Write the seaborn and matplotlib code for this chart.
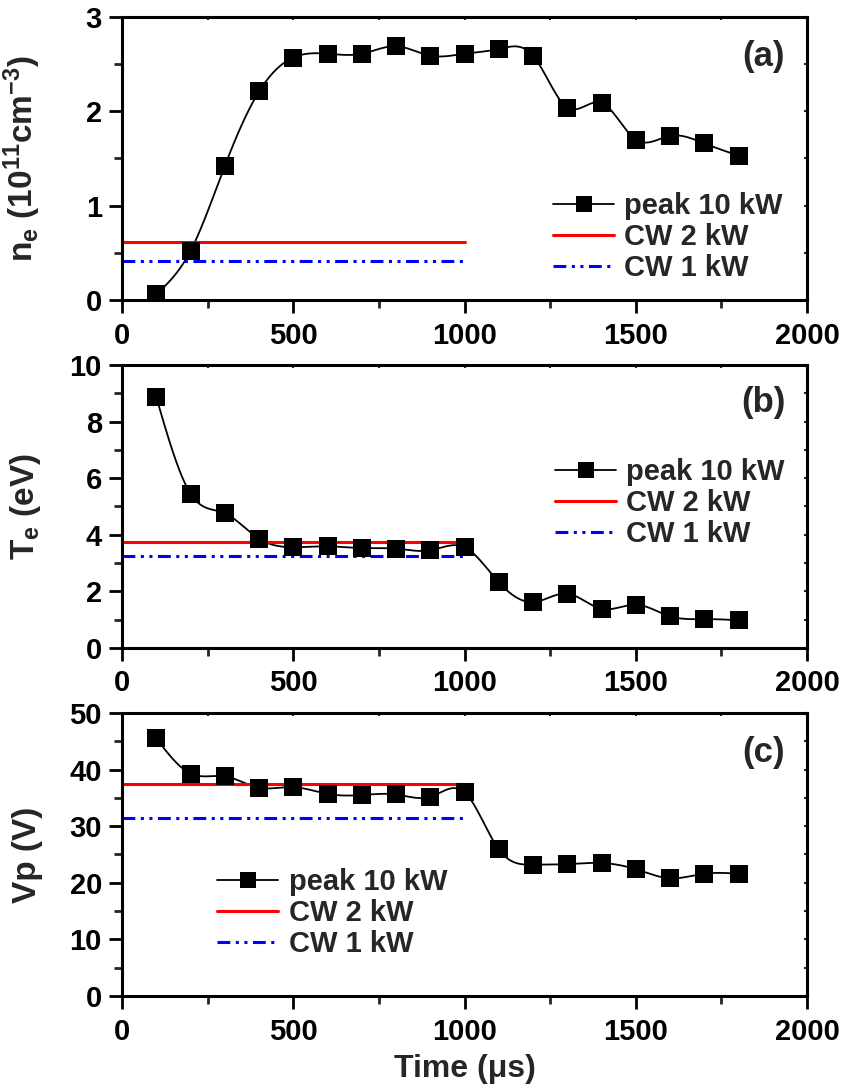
import numpy as np
import pandas as pd
import matplotlib
matplotlib.use("Agg")
import matplotlib.pyplot as plt
from matplotlib.lines import Line2D
from matplotlib.ticker import MultipleLocator
import seaborn as sns

# ---- data -------------------------------------------------------------
time_us = [100, 200, 300, 400, 500, 600, 700, 800, 900,
           1000, 1100, 1200, 1300, 1400, 1500, 1600, 1700, 1800]

ne_peak = [0.06, 0.52, 1.42, 2.21, 2.57, 2.61, 2.61, 2.69, 2.59,
           2.61, 2.66, 2.59, 2.04, 2.09, 1.70, 1.74, 1.66, 1.53]
te_peak = [8.86, 5.45, 4.76, 3.86, 3.56, 3.59, 3.53, 3.51, 3.45,
           3.56, 2.32, 1.62, 1.92, 1.38, 1.53, 1.12, 1.02, 0.98]
vp_peak = [45.5, 39.3, 38.8, 36.8, 36.9, 35.7, 35.5, 35.6, 35.2,
           36.0, 25.9, 23.2, 23.3, 23.5, 22.4, 20.8, 21.6, 21.6]

cw_span = [0, 1000]
ne_cw2, ne_cw1 = 0.62, 0.41
te_cw2, te_cw1 = 3.76, 3.24
vp_cw2, vp_cw1 = 37.5, 31.4

legend_labels = ["peak 10 kW", "CW 2 kW", "CW 1 kW"]
panel_tags = ["(a)", "(b)", "(c)"]
y_labels = [r"n$_\mathbf{e}$ (10$^\mathbf{11}$cm$^\mathbf{-3}$)",
            r"T$_\mathbf{e}$ (eV)", "Vp (V)"]

# ---- style ------------------------------------------------------------
sns.set_theme(style="ticks")
plt.rcParams["font.family"] = ["Liberation Sans", "DejaVu Sans"]
plt.rcParams["font.weight"] = "bold"
plt.rcParams["mathtext.fontset"] = "custom"
plt.rcParams["mathtext.rm"] = "Liberation Sans:bold"
plt.rcParams["mathtext.bf"] = "Liberation Sans:bold"
plt.rcParams["mathtext.it"] = "Liberation Sans:bold"
plt.rcParams["mathtext.default"] = "bf"

FS_TICK = 21
FS_LEG = 21
FS_LABEL = 24
FS_TAG = 25
RED = "#ff0000"
BLUE = "#0000ff"
DASHDOTDOT = (4.2, 1.8, 1.0, 1.8, 1.0, 1.8)


def natural_spline(x, y, n=500):
    """Natural cubic spline through the measured points (for the smooth trace)."""
    x = np.asarray(x, float)
    y = np.asarray(y, float)
    m = len(x)
    h = np.diff(x)
    A = np.zeros((m, m))
    b = np.zeros(m)
    A[0, 0] = A[-1, -1] = 1.0
    for i in range(1, m - 1):
        A[i, i - 1] = h[i - 1]
        A[i, i] = 2 * (h[i - 1] + h[i])
        A[i, i + 1] = h[i]
        b[i] = 6 * ((y[i + 1] - y[i]) / h[i] - (y[i] - y[i - 1]) / h[i - 1])
    M = np.linalg.solve(A, b)
    xs = np.linspace(x[0], x[-1], n)
    idx = np.clip(np.searchsorted(x, xs) - 1, 0, m - 2)
    x0, x1 = x[idx], x[idx + 1]
    hh = x1 - x0
    t0 = x1 - xs
    t1 = xs - x0
    ys = (M[idx] * t0 ** 3 / (6 * hh) + M[idx + 1] * t1 ** 3 / (6 * hh)
          + (y[idx] / hh - M[idx] * hh / 6) * t0
          + (y[idx + 1] / hh - M[idx + 1] * hh / 6) * t1)
    return xs, ys


fig = plt.figure(figsize=(8.45, 10.87), dpi=100)
left, width, height = 0.1444, 0.8107, 0.2604
bottoms = [0.724, 0.4039, 0.0837]

panels = [
    (ne_peak, ne_cw2, ne_cw1, (0, 3), 1, 0.5, (0.629, 0.223), 0.859),
    (te_peak, te_cw2, te_cw1, (0, 10), 2, 1, (0.632, 0.512), 0.866),
    (vp_peak, vp_cw2, vp_cw1, (0, 50), 10, 5, (0.139, 0.293), 0.859),
]

for k, (vals, cw2, cw1, ylim, ymaj, ymin, leg_xy, tag_y) in enumerate(panels):
    ax = fig.add_axes([left, bottoms[k], width, height])

    xs, ys = natural_spline(time_us, vals)
    sns.lineplot(x=xs, y=ys, ax=ax, color="black", lw=1.3, sort=False)
    sns.lineplot(x=cw_span, y=[cw2, cw2], ax=ax, color=RED, lw=2.2)
    sns.lineplot(x=cw_span, y=[cw1, cw1], ax=ax, color=BLUE, lw=2.2,
                 dashes=False).lines[-1].set_dashes(DASHDOTDOT)
    sns.scatterplot(x=time_us, y=vals, ax=ax, marker="s", s=170,
                    color="black", edgecolor="black", linewidth=0, zorder=5)

    ax.set_xlim(0, 2000)
    ax.set_ylim(*ylim)
    ax.xaxis.set_major_locator(MultipleLocator(500))
    ax.xaxis.set_minor_locator(MultipleLocator(250))
    ax.yaxis.set_major_locator(MultipleLocator(ymaj))
    ax.yaxis.set_minor_locator(MultipleLocator(ymin))

    for sp in ax.spines.values():
        sp.set_linewidth(2.2)
        sp.set_color("black")
    ax.tick_params(which="major", direction="out", length=9.5, width=2.0,
                   labelsize=FS_TICK, pad=5, colors="black")
    ax.tick_params(which="minor", direction="out", length=5.5, width=2.0)
    ax.tick_params(axis="x", which="major", pad=6)
    for lab in ax.get_xticklabels() + ax.get_yticklabels():
        lab.set_fontweight("bold")

    # small inward ticks along the top and right frame
    top = ax.secondary_xaxis("top")
    top.xaxis.set_major_locator(MultipleLocator(250))
    top.tick_params(direction="in", length=2.5, width=1.5, labeltop=False)
    right = ax.secondary_yaxis("right")
    right.yaxis.set_major_locator(MultipleLocator(ymin))
    right.tick_params(direction="in", length=2.5, width=1.5, labelright=False)

    ax.set_ylabel(y_labels[k], fontsize=FS_LABEL, fontweight="bold")
    ax.yaxis.set_label_coords(-0.115, 0.5)
    ax.set_xlabel("")

    ax.text(0.968, tag_y, panel_tags[k], transform=ax.transAxes,
            ha="right", va="center", fontsize=FS_TAG, fontweight="bold")

    handles = [
        Line2D([], [], color="black", lw=1.3, marker="s", markersize=11,
               markeredgewidth=0),
        Line2D([], [], color=RED, lw=2.2),
        Line2D([], [], color=BLUE, lw=2.2, dashes=DASHDOTDOT),
    ]
    ax.legend(handles, legend_labels, loc="center left",
              bbox_to_anchor=leg_xy, frameon=False,
              prop={"weight": "bold", "size": FS_LEG}, borderpad=0,
              borderaxespad=0, handlelength=2.1, handletextpad=0.35,
              labelspacing=0.1, numpoints=1)

    if k == 2:
        ax.set_xlabel("Time (\u03bcs)", fontsize=FS_LABEL - 1,
                      fontweight="bold", labelpad=6)

fig.savefig("out.png", dpi=100)
